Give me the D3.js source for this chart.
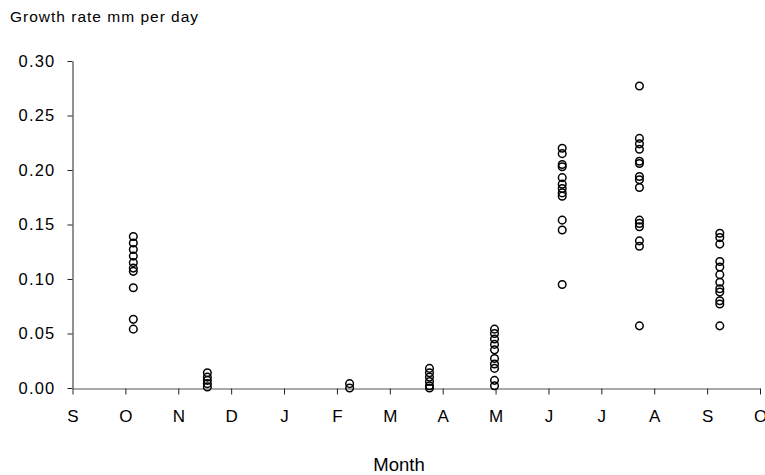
<!DOCTYPE html>
<html>
<head>
<meta charset="utf-8">
<script src="https://cdn.jsdelivr.net/npm/d3@7"></script>
<style>
  body { margin: 0; background: #fff; }
  svg { display: block; font-family: "Liberation Sans", Arial, sans-serif; }
</style>
</head>
<body>
<svg id="chart" width="765" height="475"></svg>
<script>
// month tick labels, Sep to Oct of the following year
const monthLabels = ["S", "O", "N", "D", "J", "F", "M", "A", "M", "J", "J", "A", "S", "O"];

// sampling dates, as months after the start of September
const sampleMonths = [1.15, 2.55, 5.24, 6.75, 7.98, 9.26, 10.72, 12.24];

// growth rates (mm per day) for each sampling date
const octRates = [0.139, 0.133, 0.127, 0.121, 0.115, 0.110, 0.107, 0.092, 0.063, 0.054];
const decRates = [0.014, 0.010, 0.007, 0.004, 0.001];
const febRates = [0.004, 0.000];
const aprRates = [0.018, 0.014, 0.010, 0.006, 0.002, 0.000];
const mayRates = [0.054, 0.050, 0.045, 0.040, 0.035, 0.027, 0.022, 0.018, 0.007, 0.002];
const junRates = [0.220, 0.215, 0.205, 0.203, 0.193, 0.187, 0.183, 0.179, 0.176, 0.154, 0.145, 0.095];
const augRates = [0.277, 0.229, 0.224, 0.219, 0.208, 0.206, 0.194, 0.191, 0.184, 0.154, 0.151, 0.148, 0.135, 0.130, 0.057];
const sepRates = [0.142, 0.138, 0.132, 0.116, 0.111, 0.104, 0.097, 0.091, 0.088, 0.080, 0.077, 0.057];

const yTicks = [0, 0.05, 0.10, 0.15, 0.20, 0.25, 0.30];

const groups = [octRates, decRates, febRates, aprRates, mayRates, junRates, augRates, sepRates];
const points = groups.flatMap((rates, i) => rates.map(r => ({month: sampleMonths[i], rate: r})));

const svg = d3.select("#chart");

const x = d3.scaleLinear().domain([0, monthLabels.length - 1]).range([72.5, 760]);
const y = d3.scaleLinear().domain([0, 0.3]).range([388, 61]);

// y axis
const yAxis = svg.append("g")
  .attr("transform", "translate(72.5,0)")
  .call(d3.axisLeft(y).tickValues(yTicks).tickFormat(d3.format(".2f")).tickSize(5).tickPadding(12).tickSizeOuter(0));
yAxis.select(".domain").attr("stroke", "#222");
yAxis.selectAll(".tick line").attr("stroke", "#222");
yAxis.selectAll("text")
  .attr("font-size", 16.5)
  .attr("letter-spacing", 1.2)
  .attr("fill", "#000")
  .attr("font-family", "Liberation Sans, Arial, sans-serif");

// x axis
const xAxis = svg.append("g")
  .attr("transform", "translate(0,388.5)")
  .call(d3.axisBottom(x).tickValues(d3.range(monthLabels.length))
    .tickFormat(i => monthLabels[i]).tickSize(6).tickPadding(15).tickSizeOuter(0));
xAxis.select(".domain").attr("stroke", "#555");
xAxis.selectAll(".tick line").attr("stroke", "#222");
xAxis.selectAll("text")
  .attr("font-size", 17)
  .attr("fill", "#000")
  .attr("font-family", "Liberation Sans, Arial, sans-serif");

// points
svg.append("g")
  .selectAll("circle")
  .data(points)
  .join("circle")
    .attr("cx", d => x(d.month))
    .attr("cy", d => y(d.rate))
    .attr("r", 3.8)
    .attr("fill", "none")
    .attr("stroke", "#000")
    .attr("stroke-width", 1.5);

// titles
svg.append("text")
  .attr("x", 10)
  .attr("y", 22)
  .attr("font-size", 15.5)
  .attr("letter-spacing", 1)
  .attr("fill", "#000")
  .text("Growth rate mm per day");

svg.append("text")
  .attr("x", 399)
  .attr("y", 471)
  .attr("text-anchor", "middle")
  .attr("font-size", 18.5)
  .attr("fill", "#000")
  .text("Month");
</script>
</body>
</html>
